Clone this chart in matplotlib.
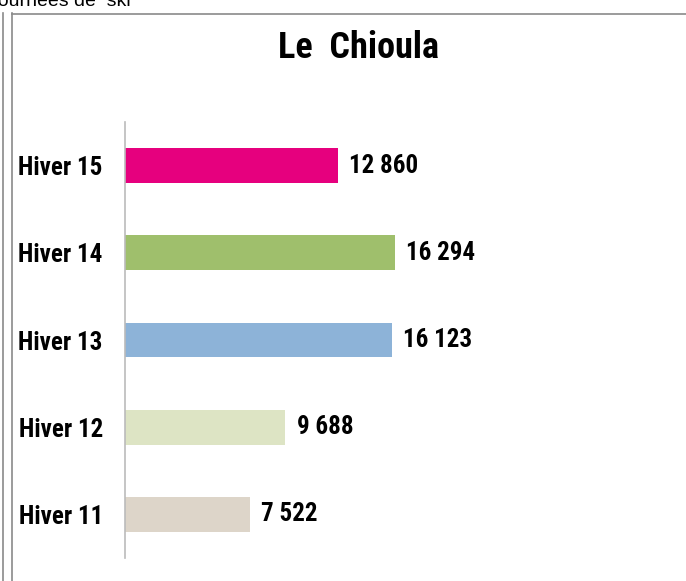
"""
Horizontal bar chart: ski days per winter at Le Chioula.
"""

import matplotlib.pyplot as plt
from matplotlib import font_manager
from matplotlib.lines import Line2D

# Data
winters = ['Hiver 11', 'Hiver 12', 'Hiver 13', 'Hiver 14', 'Hiver 15']
days = [7522, 9688, 16123, 16294, 12860]
labels = ['7 522', '9 688', '16 123', '16 294', '12 860']
colors = ['#ddd5c9', '#dde4c4', '#8db3d8', '#9fbf6c', '#e6007e']

# Pick a narrow font if one exists
names = {f.name for f in font_manager.fontManager.ttflist}
narrow = [n for n in ['Liberation Sans Narrow', 'Roboto Condensed', 'Open Sans Condensed',
                      'DejaVu Sans Condensed'] if n in names]
plt.rcParams['font.family'] = narrow + ['Liberation Sans', 'DejaVu Sans']


def main():
    fig = plt.figure(figsize=(6.86, 5.81), dpi=100)
    W, H = 686, 581

    # axes: x from 125 px to right edge, y from 122 to 558 px
    ax = fig.add_axes([125 / W, 1 - 558 / H, (W - 125) / W, (558 - 122) / H])
    ax.barh(range(len(winters)), days, height=0.4, color=colors)
    ax.set_ylim(-0.5, 4.5)
    ax.set_xlim(0, (W - 125) / 0.01656)

    for i, (v, lab) in enumerate(zip(days, labels)):
        ax.annotate(lab, (v, i), xytext=(8, 0), textcoords='offset points',
                    va='center', ha='left', fontsize=18, fontweight='bold')

    ax.set_yticks(range(len(winters)))
    ax.set_yticklabels(winters, fontsize=18, fontweight='bold')
    ax.tick_params(axis='y', length=0, pad=16)
    ax.set_xticks([])
    for s in ['top', 'right', 'bottom']:
        ax.spines[s].set_visible(False)
    ax.spines['left'].set_color('#bbbbbb')
    ax.spines['left'].set_linewidth(1.2)

    fig.text(358 / W, 1 - 48 / H, 'Le  Chioula', ha='center', va='center',
             fontsize=26, fontweight='bold')

    # frame lines from the surrounding sheet
    gray = '#8a8a8a'
    fig.add_artist(Line2D([3.5 / W, 3.5 / W], [0, 1 - 13 / H], color=gray, lw=1.2))
    fig.add_artist(Line2D([11.5 / W, 11.5 / W], [0, 1 - 13 / H], color=gray, lw=1.2))
    fig.add_artist(Line2D([11.5 / W, 1], [1 - 13.5 / H, 1 - 13.5 / H], color=gray, lw=1.2))

    # clipped heading above the frame
    fig.text(-12 / W, 1 - 6 / H, 'Journées de  ski', ha='left', va='baseline',
             fontsize=14, family=['Liberation Sans', 'DejaVu Sans'])

    fig.savefig('out.png', dpi=100)


if __name__ == "__main__":
    main()
